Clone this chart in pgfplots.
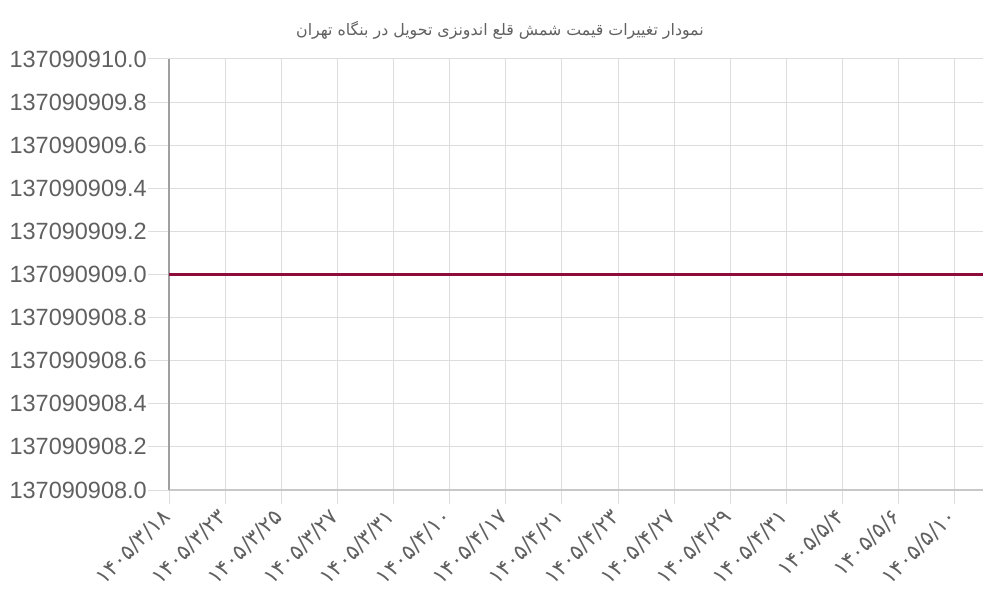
\documentclass[border=0pt]{standalone}
\usepackage{pgfplots}
\pgfplotsset{compat=1.18}
\usepackage{fontspec}
\setmainfont{Liberation Sans}
\newfontfamily\arabicfont[Script=Arabic]{DejaVu Sans}
\newfontfamily\digitfont{DejaVu Sans}
\TeXXeTstate=1
\definecolor{linec}{HTML}{8E0C3C}
\definecolor{txt}{HTML}{606060}
\definecolor{gridc}{HTML}{DDDDDD}
\definecolor{xaxc}{HTML}{C8C8C8}
\definecolor{yaxc}{HTML}{A0A0A0}

\begin{document}
\begin{tikzpicture}[x=1pt,y=1pt]
\useasboundingbox (0,0) rectangle (1000,600);
\node[text=txt, font=\arabicfont\fontsize{15.8}{18}\selectfont] at (500,570) {\beginR نمودار تغییرات قیمت شمش قلع اندونزی تحویل در بنگاه تهران\endR};
\begin{axis}[
  at={(169pt,110pt)}, anchor=south west,
  scale only axis, width=814pt, height=431pt,
  y coord trafo/.code={\pgfmathfloatparsenumber{#1}\pgfmathfloattosci{\pgfmathresult}\edef\pgfmathresult{\fpeval{\pgfmathresult-137090900}}},
  ymin=137090908, ymax=137090910,
  ytick={137090908,137090908.2,137090908.4,137090908.6,137090908.8,137090909,137090909.2,137090909.4,137090909.6,137090909.8,137090910},
  yticklabels={137090908.0,137090908.2,137090908.4,137090908.6,137090908.8,137090909.0,137090909.2,137090909.4,137090909.6,137090909.8,137090910.0},
  xmin=0, xmax=29,
  xtick={0,2,4,6,8,10,12,14,16,18,20,22,24,26,28},
  xticklabels={۱۴۰۵/۳/۱۸,۱۴۰۵/۳/۲۳,۱۴۰۵/۳/۲۵,۱۴۰۵/۳/۲۷,۱۴۰۵/۳/۳۱,۱۴۰۵/۴/۱۰,۱۴۰۵/۴/۱۷,۱۴۰۵/۴/۲۱,۱۴۰۵/۴/۲۳,۱۴۰۵/۴/۲۷,۱۴۰۵/۴/۲۹,۱۴۰۵/۴/۳۱,۱۴۰۵/۵/۴,۱۴۰۵/۵/۶,۱۴۰۵/۵/۱۰},
  axis x line*=bottom, axis y line*=left,
  axis line style={-},
  x axis line style={draw=xaxc, line width=1.5pt},
  y axis line style={draw=yaxc, line width=1.5pt},
  grid=major,
  major grid style={draw=gridc, line width=1pt},
  tick align=outside,
  major tick length=21pt,
  tick style={draw=gridc, line width=1pt},
  yticklabel style={font=\fontsize{23.5}{26}\selectfont, text=txt, inner sep=1pt},
  xticklabel style={font=\digitfont\fontsize{21.5}{24}\selectfont, text=txt, rotate=45, anchor=east, inner sep=3pt},
  x tick style={/pgfplots/major tick length=14pt},
  clip=false,
]
\addplot[color=linec, line width=3.5pt] coordinates {
(0,137090909) (1,137090909) (2,137090909) (3,137090909) (4,137090909)
(5,137090909) (6,137090909) (7,137090909) (8,137090909) (9,137090909)
(10,137090909) (11,137090909) (12,137090909) (13,137090909) (14,137090909)
(15,137090909) (16,137090909) (17,137090909) (18,137090909) (19,137090909)
(20,137090909) (21,137090909) (22,137090909) (23,137090909) (24,137090909)
(25,137090909) (26,137090909) (27,137090909) (28,137090909) (29,137090909)
};
\end{axis}
\end{tikzpicture}
\end{document}
